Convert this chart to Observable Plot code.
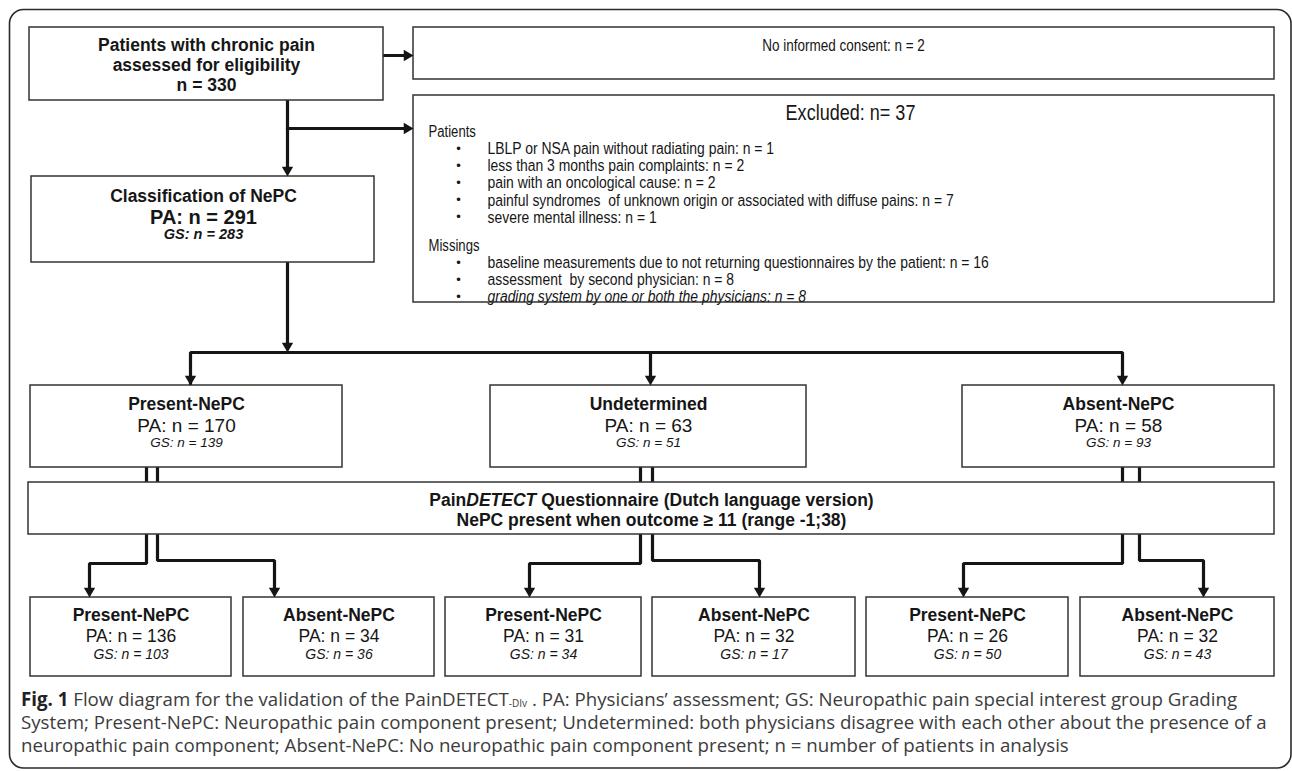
<!DOCTYPE html>
<html>
<head>
<meta charset="utf-8">
<script src="https://cdn.jsdelivr.net/npm/d3@7"></script>
<script src="https://cdn.jsdelivr.net/npm/@observablehq/plot@0.6"></script>
<style>
  html, body { margin: 0; padding: 0; background: #fff; }
  #wrap { position: relative; width: 1292px; height: 771px; overflow: hidden; }
  #chart { position: absolute; left: 0; top: 0; }
  #caption { position: absolute; left: 21px; top: 687px; font-family: "Open Sans", "Noto Sans", sans-serif;
             font-size: 18.7px; line-height: 23px; color: #3c3c3c; white-space: nowrap; }
  #caption b { color: #222; }
  #caption sub { font-size: 10px; vertical-align: -1px; line-height: 0; }
</style>
</head>
<body>
<div id="wrap"><div id="chart"></div><div id="caption"></div></div>
<script>
// ---------------- DATA ----------------
const screenedLabel = ["Patients with chronic pain", "assessed for eligibility"];
const screenedN = 330;
const noConsentN = 2;
const excludedN = 37;
const excludedPatientReasons = [
  "LBLP or NSA pain without radiating pain",
  "less than 3 months pain complaints",
  "pain with an oncological cause",
  "painful syndromes  of unknown origin or associated with diffuse pains",
  "severe mental illness"
];
const excludedPatientCounts = [1, 2, 2, 7, 1];
const missingReasons = [
  "baseline measurements due to not returning questionnaires by the patient",
  "assessment  by second physician",
  "grading system by one or both the physicians"
];
const missingCounts = [16, 8, 8];
const classificationTitle = "Classification of NePC";
const classifiedPA = 291;
const classifiedGS = 283;
const groupNames = ["Present-NePC", "Undetermined", "Absent-NePC"];
const groupPA = [170, 63, 58];
const groupGS = [139, 51, 93];
const questionnaireLine1 = ["Pain", "DETECT", " Questionnaire (Dutch language version)"];
const questionnaireLine2 = "NePC present when outcome \u2265 11 (range -1;38)";
const outcomeNames = ["Present-NePC", "Absent-NePC"];
const outcomePA = [136, 34, 31, 32, 26, 32];
const outcomeGS = [103, 36, 34, 17, 50, 43];
const captionLabel = "Fig. 1";
const captionLine1 = [" Flow diagram for the validation of the PainDETECT", "-DIv", " . PA: Physicians\u2019 assessment; GS: Neuropathic pain special interest group Grading"];
const captionLine2 = "System; Present-NePC: Neuropathic pain component present; Undetermined: both physicians disagree with each other about the presence of a";
const captionLine3 = "neuropathic pain component; Absent-NePC: No neuropathic pain component present; n = number of patients in analysis";

// ---------------- LAYOUT ----------------
const W = 1292, H = 771;
const SANS = '"Liberation Sans", Arial, Helvetica, sans-serif';
const ctx = document.createElement("canvas").getContext("2d");
function hasFont(name) {
  const s = "abcdefghijklmnopqrstuvwxyz ABCDEFGHIJ";
  ctx.font = "20px monospace"; const a = ctx.measureText(s).width;
  ctx.font = `20px ${name}, monospace`; const b = ctx.measureText(s).width;
  return Math.abs(a - b) > 0.5;
}
const narrowOK = hasFont('"Liberation Sans Narrow"');
const NARROW = narrowOK ? '"Liberation Sans Narrow", ' + SANS : SANS;
function tw(str, font) { ctx.font = font; return ctx.measureText(str).width; }

const boxes = [];
const texts = [];
const pts = [];
const heads = [];
let pid = 0;
const HEAD = 6.5;

function box(x1, y1, x2, y2) { boxes.push({x1, y1, x2, y2}); }
function txt(x, y, text, size, o = {}) {
  texts.push({x, y, text, size, weight: o.weight || "normal", style: o.style || "normal",
              anchor: o.anchor || "middle", narrow: !!o.narrow});
}
function path(list, arrow) {
  const p = list.map(d => ({x: d[0], y: d[1]}));
  if (arrow) {
    const a = p[p.length - 1], b = p[p.length - 2];
    const dx = Math.sign(a.x - b.x), dy = Math.sign(a.y - b.y);
    heads.push({x: a.x - dx * HEAD, y: a.y - dy * HEAD, rot: dx > 0 ? 90 : dx < 0 ? -90 : dy > 0 ? 180 : 0});
    p[p.length - 1] = {x: a.x - dx * HEAD, y: a.y - dy * HEAD};
  }
  pid++;
  p.forEach(d => pts.push({id: pid, ...d}));
}

// enrolment box
box(29, 27, 383, 100);
txt(206, 45, screenedLabel[0], 17.5, {weight: "bold"});
txt(206, 65, screenedLabel[1], 17.5, {weight: "bold"});
txt(206, 85, `n = ${screenedN}`, 17.5, {weight: "bold"});

// no consent
box(413, 27, 1274, 79);
txt(843, 45, `No informed consent: n = ${noConsentN}`, 16.5, {narrow: true});
path([[383, 55], [413, 55]], true);

// excluded
box(413, 95, 1274, 302);
txt(850, 112, `Excluded: n= ${excludedN}`, 22, {narrow: true});
txt(428, 131, "Patients", 16, {narrow: true, anchor: "start"});
excludedPatientReasons.forEach((r, i) => {
  const y = 148 + i * 17.2;
  txt(458, y, "\u2022", 13, {anchor: "middle"});
  txt(487, y, `${r}: n = ${excludedPatientCounts[i]}`, 17, {narrow: true, anchor: "start"});
});
txt(428, 245, "Missings", 16, {narrow: true, anchor: "start"});
missingReasons.forEach((r, i) => {
  const y = 262 + i * 17.2;
  txt(458, y, "\u2022", 13, {anchor: "middle"});
  txt(487, y, `${r}: n = ${missingCounts[i]}`, 17, {narrow: true, anchor: "start", style: i === 2 ? "italic" : "normal"});
});

// flow down from enrolment
path([[287, 100], [287, 176]], true);
path([[287, 128], [413, 128]], true);

// classification
box(31, 176, 374, 262);
txt(203, 196, classificationTitle, 17.5, {weight: "bold"});
txt(203, 217, `PA: n = ${classifiedPA}`, 20, {weight: "bold"});
txt(203, 234, `GS: n = ${classifiedGS}`, 14.5, {weight: "bold", style: "italic"});
path([[287, 262], [287, 352]], true);

// groups row
const gBox = [[30, 342], [490, 806], [962, 1274]];
const gArrow = [190, 650, 1122];
const gY1 = 385, gY2 = 467;
path([[gArrow[0], gY1], [gArrow[0], 352], [gArrow[2], 352], [gArrow[2], gY1]], true);
heads.push({x: gArrow[0], y: gY1 - HEAD, rot: 180});
path([[gArrow[1], 352], [gArrow[1], gY1]], true);
groupNames.forEach((g, i) => {
  const [a, b] = gBox[i], c = (a + b) / 2;
  box(a, gY1, b, gY2);
  txt(c, 404, g, 17.5, {weight: "bold"});
  txt(c, 425, `PA: n = ${groupPA[i]}`, 19);
  txt(c, 442, `GS: n = ${groupGS[i]}`, 13.5, {style: "italic"});
});

// questionnaire box
const qY1 = 482, qY2 = 534;
box(28, qY1, 1274, qY2);
{
  const fB = `bold 17.5px ${SANS}`, fBI = `italic bold 17.5px ${SANS}`;
  const w = [tw(questionnaireLine1[0], fB), tw(questionnaireLine1[1], fBI), tw(questionnaireLine1[2], fB)];
  let x = 651 - (w[0] + w[1] + w[2]) / 2;
  txt(x, 500, questionnaireLine1[0], 17.5, {weight: "bold", anchor: "start"}); x += w[0];
  txt(x, 500, questionnaireLine1[1], 17.5, {weight: "bold", style: "italic", anchor: "start"}); x += w[1];
  txt(x, 500, questionnaireLine1[2], 17.5, {weight: "bold", anchor: "start"});
}
txt(651, 520, questionnaireLine2, 17.5, {weight: "bold"});

// outcome row
const doubleX = [[146, 157], [640, 652], [1122, 1139]];
const oBox = [[30, 231], [243, 434], [445, 641], [652, 855], [866, 1068], [1080, 1274]];
const oArrow = [89, 274, 529, 759, 963, 1203];
const oY1 = 597, oY2 = 676;
doubleX.forEach(([l, r], i) => {
  path([[l, gY2], [l, qY1]]);
  path([[r, gY2], [r, qY1]]);
  path([[l, qY2], [l, 563], [oArrow[2 * i], 563], [oArrow[2 * i], oY1]], true);
  path([[r, qY2], [r, 560], [oArrow[2 * i + 1], 560], [oArrow[2 * i + 1], oY1]], true);
});
oBox.forEach(([a, b], i) => {
  const c = (a + b) / 2;
  box(a, oY1, b, oY2);
  txt(c, 615, outcomeNames[i % 2], 17.5, {weight: "bold"});
  txt(c, 636, `PA: n = ${outcomePA[i]}`, 17.5);
  txt(c, 654, `GS: n = ${outcomeGS[i]}`, 14, {style: "italic"});
});

// ---------------- PLOT ----------------
const groups = d3.groups(texts, d => [d.narrow, d.weight, d.style, d.anchor].join("|"));
const textMarks = groups.map(([k, data]) => {
  const d0 = data[0];
  return Plot.text(data, {
    x: "x", y: "y", text: "text", fontSize: "size",
    fontFamily: d0.narrow ? NARROW : SANS, fontWeight: d0.weight, fontStyle: d0.style,
    textAnchor: d0.anchor, lineAnchor: "middle", fill: "#161616",
    ariaDescription: d0.narrow ? "narrow" : "plain"
  });
});

const chart = Plot.plot({
  width: W, height: H, margin: 0,
  style: {background: "transparent", overflow: "visible"},
  x: {domain: [0, W], range: [0, W], axis: null},
  y: {domain: [0, H], range: [0, H], axis: null},
  marks: [
    Plot.rect([{x1: 9.5, y1: 9.5, x2: 1291, y2: 768}], {x1: "x1", y1: "y1", x2: "x2", y2: "y2", rx: 14, fill: "none", stroke: "#2a2a2a", strokeWidth: 1.6}),
    Plot.line(pts, {x: "x", y: "y", z: "id", stroke: "#151515", strokeWidth: 3.2, strokeLinejoin: "miter", curve: "linear"}),
    Plot.rect(boxes, {x1: "x1", y1: "y1", x2: "x2", y2: "y2", fill: "white", stroke: "#333", strokeWidth: 1.5}),
    Plot.dot(heads, {x: "x", y: "y", rotate: "rot", symbol: "triangle", r: 4.2, fill: "#151515", stroke: "none"}),
    ...textMarks
  ]
});
document.getElementById("chart").appendChild(chart);

if (!narrowOK) {
  chart.querySelectorAll('g[aria-description="narrow"] text').forEach(t => {
    const tr = t.getAttribute("transform") || "";
    const x = +t.getAttribute("x") || 0;
    t.setAttribute("transform", `${tr} translate(${x},0) scale(0.82,1) translate(${-x},0)`);
  });
}
chart.querySelectorAll("text").forEach(t => t.setAttribute("xml:space", "preserve"));

// caption
const cap = document.getElementById("caption");
const b = document.createElement("b"); b.textContent = captionLabel; cap.appendChild(b);
cap.appendChild(document.createTextNode(captionLine1[0]));
const sub = document.createElement("sub"); sub.textContent = captionLine1[1]; cap.appendChild(sub);
cap.appendChild(document.createTextNode(captionLine1[2]));
cap.appendChild(document.createElement("br"));
cap.appendChild(document.createTextNode(captionLine2));
cap.appendChild(document.createElement("br"));
cap.appendChild(document.createTextNode(captionLine3));
</script>
</body>
</html>
